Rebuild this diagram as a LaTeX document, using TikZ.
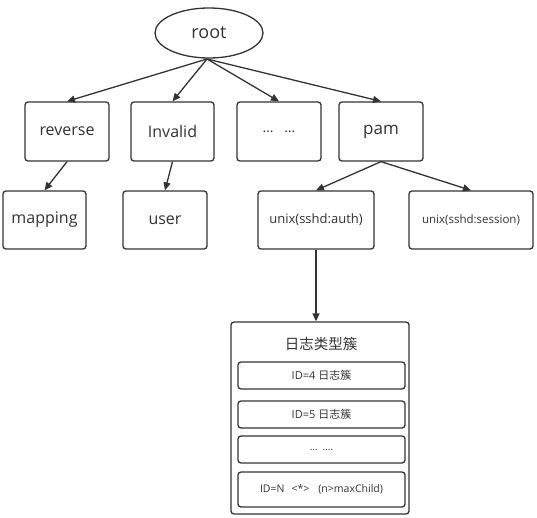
\documentclass[tikz,border=0pt]{standalone}
\usepackage{fontspec}
\setmainfont{Open Sans}
\newfontfamily\cjk{Noto Sans CJK SC}
\usetikzlibrary{arrows.meta,shapes.geometric}
\definecolor{ln}{HTML}{333333}
\definecolor{tx}{HTML}{333333}
\begin{document}
\begin{tikzpicture}[x=1pt,y=-1pt,
  box/.style={draw=ln,line width=1.3pt,rounded corners=3pt,fill=white,text=tx,inner sep=0pt},
  arr/.style={draw=ln,line width=1.3pt,-{Triangle[length=8pt,width=7pt]}},
  lbl/.style={text=tx,inner sep=0pt}]
\useasboundingbox (0,0) rectangle (537,518);
% root
\node[draw=ln,line width=1.3pt,ellipse,minimum width=108pt,minimum height=50pt,inner sep=0pt,text=tx,font=\fontsize{18}{20}\selectfont] (root) at (209,33) {root};
% level 1
\node[box,minimum width=84pt,minimum height=59pt,font=\fontsize{16}{18}\selectfont] (rev) at (67,131.5) {reverse};
\node[box,minimum width=83pt,minimum height=59pt,font=\fontsize{16}{18}\selectfont] (inv) at (172.5,131.5) {Invalid};
\node[box,minimum width=84pt,minimum height=59pt,font=\fontsize{14}{16}\selectfont] (dots) at (279,131.5) {…\hspace{11pt}…};
\node[box,minimum width=84pt,minimum height=59pt,font=\fontsize{17}{19}\selectfont] (pam) at (381,131.5) {pam};
% level 2
\node[box,minimum width=83pt,minimum height=58pt,font=\fontsize{16}{18}\selectfont] (map) at (44.5,220) {mapping};
\node[box,minimum width=84pt,minimum height=58pt,font=\fontsize{16}{18}\selectfont] (user) at (165,220) {user};
\node[box,minimum width=116pt,minimum height=58pt,font=\fontsize{13}{15}\selectfont] (auth) at (316,220) {unix(sshd:auth)};
\node[box,minimum width=124pt,minimum height=58pt,font=\fontsize{11.5}{13}\selectfont] (sess) at (471,220) {unix(sshd:session)};
% cluster box
\node[box,minimum width=178pt,minimum height=192pt] (clu) at (320,418) {};
\node[lbl,font=\cjk\fontsize{14.5}{17}\selectfont] (title) at (321,344) {日志类型簇};
\node[box,minimum width=167pt,minimum height=27pt,font=\fontsize{11}{13}\selectfont] (c1) at (321.5,375.5) {ID=4 {\cjk 日志簇}};
\node[box,minimum width=167pt,minimum height=27pt,font=\fontsize{11}{13}\selectfont] (c2) at (321.5,414.5) {ID=5 {\cjk 日志簇}};
\node[box,minimum width=167pt,minimum height=27pt,font=\fontsize{10}{12}\selectfont] (c3) at (321.5,449.5) {…\hspace{5pt}….};
\node[box,minimum width=167pt,minimum height=35pt,font=\fontsize{10.5}{13}\selectfont] (c4) at (321.5,489.5) {ID=N\hspace{7pt}<*>\hspace{9pt}(n>maxChild)};
% connectors
\coordinate (rb) at (207,59);
\draw[arr] (rb) -- (rev.north);
\draw[arr] (rb) -- (inv.north);
\draw[arr] (rb) -- (dots.north);
\draw[arr] (rb) -- (pam.north);
\draw[arr] (rev.south) -- (map.north);
\draw[arr] (inv.south) -- (user.north);
\draw[arr] (pam.south) -- (auth.north);
\draw[arr] (pam.south) -- (sess.north);
\draw[arr] (auth.south) -- (auth.south |- clu.north);
\end{tikzpicture}
\end{document}
